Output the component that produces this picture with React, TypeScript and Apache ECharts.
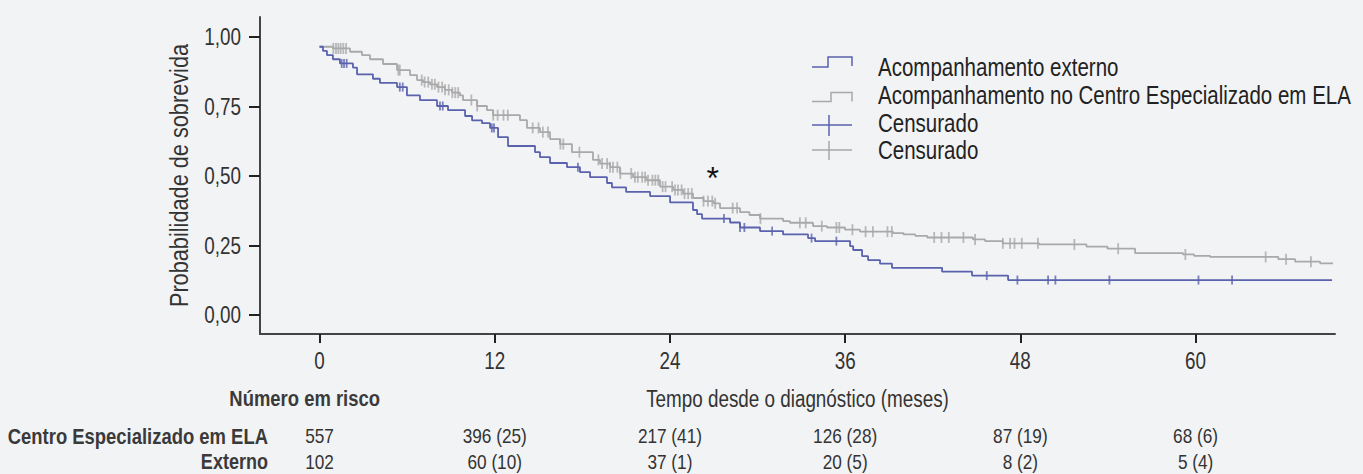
import React, { useEffect, useRef } from "react";
import * as echarts from "echarts";

// Arial-metric font, compressed horizontally to imitate the condensed face of the reference
const FONT = "'Liberation Sans', Arial, sans-serif";
const NARROW = 0.82;

const xTicks = [0, 12, 24, 36, 48, 60];
const yTicks = [0, 0.25, 0.5, 0.75, 1];

const seriesNames = ["Acompanhamento externo", "Acompanhamento no Centro Especializado em ELA"];
const censorLabel = "Censurado";

// Kaplan-Meier step points: [time in months, survival after the drop]
const externoSteps = [
  [0, 0.965], [0.24, 0.95], [0.51, 0.935], [0.92, 0.92], [1.4, 0.905], [2.29, 0.89], [2.57, 0.866],
  [3.66, 0.85], [4.14, 0.835], [5.31, 0.82], [5.99, 0.79], [6.88, 0.773], [8.05, 0.752], [8.8, 0.737],
  [9.97, 0.716], [10.45, 0.7], [11.13, 0.69], [11.68, 0.673], [12.23, 0.64], [12.91, 0.608],
  [14.76, 0.586], [15.1, 0.568], [15.79, 0.547], [16.95, 0.532], [17.84, 0.514], [18.53, 0.496],
  [19.69, 0.475], [20.03, 0.459], [21.0, 0.443], [22.64, 0.428], [24.01, 0.405], [25.58, 0.378],
  [25.86, 0.363], [26.2, 0.347], [28.12, 0.333], [28.8, 0.315], [30.17, 0.302], [31.75, 0.29],
  [33.46, 0.277], [33.94, 0.266], [36.34, 0.248], [36.55, 0.234], [37.16, 0.212], [37.57, 0.198],
  [38.39, 0.185], [39.21, 0.17], [42.64, 0.156], [44.69, 0.142], [47.16, 0.126], [69.35, 0.126],
];

const centroSteps = [
  [0, 0.965], [0.92, 0.959], [2.09, 0.947], [2.91, 0.935], [3.46, 0.92], [4.35, 0.903], [5.31, 0.881],
  [6.2, 0.863], [6.68, 0.845], [7.09, 0.838], [7.57, 0.83], [8.05, 0.82], [8.59, 0.81], [9.08, 0.8],
  [9.62, 0.79], [9.83, 0.773], [10.79, 0.752], [11.47, 0.737], [11.88, 0.719], [13.73, 0.701],
  [14.21, 0.673], [15.1, 0.658], [15.79, 0.633], [16.47, 0.615], [17.29, 0.586], [18.73, 0.558],
  [19.21, 0.545], [19.9, 0.532], [20.58, 0.509], [21.47, 0.496], [22.4, 0.485], [23.32, 0.462],
  [24.21, 0.45], [24.9, 0.437], [25.58, 0.421], [26.3, 0.41], [27.0, 0.402], [27.43, 0.385],
  [28.8, 0.37], [29.45, 0.36], [30.17, 0.347], [31.75, 0.338], [32.22, 0.332], [33.8, 0.32],
  [34.76, 0.315], [35.99, 0.307], [37.02, 0.3], [39.28, 0.295], [40.0, 0.29], [40.8, 0.285],
  [41.62, 0.279], [44.76, 0.272], [45.58, 0.266], [46.8, 0.258], [49.3, 0.254], [52.53, 0.246],
  [53.97, 0.239], [55.86, 0.223], [59.14, 0.218], [59.9, 0.213], [60.99, 0.209], [65.67, 0.201],
  [66.82, 0.192], [68.53, 0.186], [69.42, 0.186],
];

const externoCensored = [
  1.52, 1.68, 1.86, 5.5, 5.7, 8.25, 8.44, 11.8, 11.95, 17.7, 27.7, 28.8, 29.1, 31.0, 33.7, 35.4,
  45.7, 47.8, 49.9, 50.4, 54.1, 60.2, 62.5,
];

const centroCensored = [
  0.95, 1.13, 1.29, 1.45, 1.63, 1.82, 5.4, 5.5, 7.0, 7.2, 7.45, 7.7, 7.9, 8.15, 8.4, 8.6, 8.85, 9.1,
  9.3, 9.5, 10.4, 10.8, 11.9, 12.2, 12.6, 12.9, 14.6, 15.0, 15.3, 15.65, 16.5, 16.7, 17.8, 19.1,
  19.35, 19.7, 19.9, 20.1, 20.4, 20.6, 21.35, 21.6, 21.8, 22.1, 22.3, 22.5, 22.8, 23.0, 23.2, 23.5,
  23.7, 24.15, 24.35, 24.55, 24.8, 25.0, 25.25, 25.5, 26.3, 26.6, 26.9, 27.1, 28.3, 28.6, 30.2,
  32.9, 33.3, 34.4, 35.4, 35.6, 36.5, 37.4, 37.9, 38.9, 39.2, 42.1, 42.6, 43.1, 44.1, 44.9, 46.8,
  47.3, 47.6, 48.1, 49.2, 51.7, 54.7, 59.3, 64.8, 66.2, 67.9,
];

const riskTitle = "Número em risco";
const riskRowLabels = ["Centro Especializado em ELA", "Externo"];
const riskCentro = ["557", "396 (25)", "217 (41)", "126 (28)", "87 (19)", "68 (6)"];
const riskExterno = ["102", "60 (10)", "37 (1)", "20 (5)", "8 (2)", "5 (4)"];

const xAxisTitle = "Tempo desde o diagnóstico (meses)";
const yAxisTitle = "Probabilidade de sobrevida";
const significance = { t: 26.93, s: 0.492, text: "*" };

const BLUE = "#5a62ad";
const GRAY = "#a9a9a9";
const BG = "#f2f3f5";
const AXIS = "#444444";
const TEXT = "#333333";

function stepAt(steps: number[][], t: number): number {
  let v = steps[0][1];
  for (const [x, y] of steps) {
    if (x <= t) v = y;
    else break;
  }
  return v;
}

function txt(
  text: string,
  x: number,
  y: number,
  fontSize: number,
  opts: { align?: string; bold?: boolean; fill?: string; rotation?: number } = {}
) {
  return {
    type: "text",
    x,
    y,
    scaleX: NARROW,
    rotation: opts.rotation ?? 0,
    silent: true,
    style: {
      text,
      fill: opts.fill ?? TEXT,
      fontSize,
      fontFamily: FONT,
      fontWeight: opts.bold ? "bold" : "normal",
      align: opts.align ?? "center",
      verticalAlign: "middle",
    },
  };
}

export default function App() {
  const ref = useRef<HTMLDivElement>(null);

  useEffect(() => {
    document.body.style.margin = "0";
    document.body.style.background = BG;
    const chart = echarts.init(ref.current!, null, { renderer: "svg" });

    chart.setOption({
      animation: false,
      backgroundColor: BG,
      grid: { left: 260, right: 28, top: 17, bottom: 140, containLabel: false, outerBoundsMode: "none" },
      xAxis: {
        type: "value",
        min: -4.075,
        max: 69.55,
        position: "bottom",
        axisLine: { show: true, onZero: false, lineStyle: { color: AXIS, width: 2 } },
        axisTick: { show: true, customValues: xTicks, length: 9, lineStyle: { color: "#222", width: 2 } },
        axisLabel: { show: false },
        splitLine: { show: false },
      },
      yAxis: {
        type: "value",
        min: -0.068,
        max: 1.072,
        axisLine: { show: true, onZero: false, lineStyle: { color: AXIS, width: 2 } },
        axisTick: { show: true, customValues: yTicks, length: 11, lineStyle: { color: "#222", width: 2 } },
        axisLabel: { show: false },
        splitLine: { show: false },
      },
      series: [
        {
          name: seriesNames[1],
          type: "line",
          step: "end",
          data: centroSteps,
          symbol: "none",
          lineStyle: { color: GRAY, width: 1.8 },
          z: 2,
          markPoint: {
            symbol: "circle",
            symbolSize: 0,
            data: [{ coord: [significance.t, significance.s], value: significance.text }],
            label: { show: true, position: "inside", formatter: significance.text, fontSize: 32, color: "#111", fontFamily: FONT },
          },
        },
        {
          name: seriesNames[0],
          type: "line",
          step: "end",
          data: externoSteps,
          symbol: "none",
          lineStyle: { color: BLUE, width: 1.8 },
          z: 3,
        },
        {
          name: censorLabel,
          type: "scatter",
          data: centroCensored.map((t) => [t, stepAt(centroSteps, t)]),
          symbol: "rect",
          symbolSize: [1.8, 11],
          itemStyle: { color: GRAY },
          z: 4,
        },
        {
          name: censorLabel,
          type: "scatter",
          data: externoCensored.map((t) => [t, stepAt(externoSteps, t)]),
          symbol: "rect",
          symbolSize: [1.8, 9],
          itemStyle: { color: BLUE },
          z: 5,
        },
      ],
    });

    // Text positions from the chart's own scales
    const px = (v: number) => chart.convertToPixel({ xAxisIndex: 0 }, v) as number;
    const py = (v: number) => chart.convertToPixel({ yAxisIndex: 0 }, v) as number;
    const xAxisY = py(-0.068);
    const yAxisX = px(-4.075);
    const xMid = (px(-4.075) + px(69.55)) / 2;
    const yMid = (py(-0.068) + py(1.072)) / 2;
    const rowCentro = 436;
    const rowExterno = 461.5;

    const legendRows = [
      { y: 67, text: seriesNames[0] },
      { y: 95, text: seriesNames[1] },
      { y: 123.5, text: censorLabel },
      { y: 150, text: censorLabel },
    ];

    const graphic: any[] = [
      // legend icons
      { type: "polyline", shape: { points: [[812, 67], [828, 67], [828, 57], [852, 57], [852, 66]] }, style: { stroke: BLUE, lineWidth: 1.5, fill: null } },
      { type: "polyline", shape: { points: [[812, 101.5], [831, 101.5], [831, 92.5], [852, 92.5], [852, 101.5]] }, style: { stroke: GRAY, lineWidth: 1.5, fill: null } },
      { type: "line", shape: { x1: 812, y1: 125, x2: 852, y2: 125 }, style: { stroke: BLUE, lineWidth: 1.5 } },
      { type: "line", shape: { x1: 829, y1: 115, x2: 829, y2: 136 }, style: { stroke: BLUE, lineWidth: 1.5 } },
      { type: "line", shape: { x1: 812, y1: 150, x2: 852, y2: 150 }, style: { stroke: GRAY, lineWidth: 1.5 } },
      { type: "line", shape: { x1: 829, y1: 141, x2: 829, y2: 160 }, style: { stroke: GRAY, lineWidth: 1.5 } },
      ...legendRows.map((r) => txt(r.text, 878, r.y, 25, { align: "left", fill: "#222222" })),
      // tick labels
      ...xTicks.map((v) => txt(String(v), px(v), xAxisY + 26.5, 23)),
      ...yTicks.map((v) => txt(v.toFixed(2).replace(".", ","), yAxisX - 19, py(v), 23, { align: "right" })),
      // axis titles
      txt(xAxisTitle, xMid, xAxisY + 65, 23),
      txt(yAxisTitle, 179, yMid, 26.5, { rotation: Math.PI / 2 }),
      // number at risk table
      txt(riskTitle, 380, 398, 22.5, { align: "right", bold: true, fill: "#3a3a3a" }),
      txt(riskRowLabels[0], 268, rowCentro, 22.5, { align: "right", bold: true, fill: "#3a3a3a" }),
      txt(riskRowLabels[1], 268, rowExterno, 22, { align: "right", bold: true, fill: "#3a3a3a" }),
      ...xTicks.map((v, i) => txt(riskCentro[i], px(v), rowCentro, 21)),
      ...xTicks.map((v, i) => txt(riskExterno[i], px(v), rowExterno, 21)),
    ];

    chart.setOption({ graphic });

    return () => chart.dispose();
  }, []);

  return (
    <div
      ref={ref}
      style={{ position: "absolute", left: 0, top: 0, width: 1363, height: 474, background: BG }}
    />
  );
}
